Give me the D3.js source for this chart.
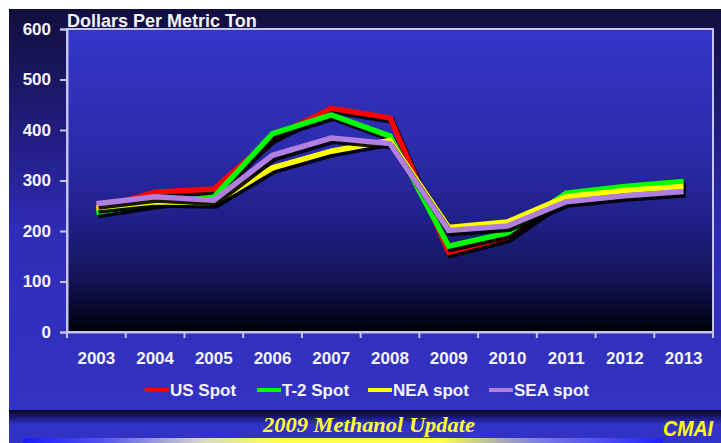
<!DOCTYPE html>
<html>
<head>
<meta charset="utf-8">
<script src="https://cdn.jsdelivr.net/npm/d3@7"></script>
<style>
  body { margin: 0; background: #fff; }
  svg { display: block; font-family: "Liberation Sans", Arial, sans-serif; }
</style>
</head>
<body>
<div id="chart"></div>
<script>
//chart data
var years = ["2003", "2004", "2005", "2006", "2007", "2008", "2009", "2010", "2011", "2012", "2013"];
var usSpot = [244, 277, 283, 385, 443, 424, 158, 188, 268, 281, 292];
var t2Spot = [237, 255, 267, 393, 430, 388, 170, 196, 275, 288, 298];
var neaSpot = [246, 258, 256, 325, 358, 379, 207, 218, 268, 280, 288];
var seaSpot = [254, 268, 261, 350, 384, 373, 201, 210, 258, 270, 278];
var yTicks = [0, 100, 200, 300, 400, 500, 600];

var seriesNames = ["US Spot", "T-2 Spot", "NEA spot", "SEA spot"];
var seriesColors = ["#ff0000", "#00ff00", "#ffff00", "#b07fe0"];
var seriesValues = [usSpot, t2Spot, neaSpot, seaSpot];

//svg dimensions
var svgWidth = 721;
var svgHeight = 443;
var plot = { left: 67, top: 29, right: 713, bottom: 332 };

var svg = d3.select("#chart").append("svg")
    .attr("width", svgWidth)
    .attr("height", svgHeight);

var defs = svg.append("defs");

//outer panel gradient: navy at top, blue lower down
var outerGrad = defs.append("linearGradient").attr("id", "outerGrad")
    .attr("x1", 0).attr("y1", 0).attr("x2", 0).attr("y2", 1);
outerGrad.append("stop").attr("offset", "0%").attr("stop-color", "#110f3c");
outerGrad.append("stop").attr("offset", "35%").attr("stop-color", "#241f88");
outerGrad.append("stop").attr("offset", "55%").attr("stop-color", "#2f2cb6");
outerGrad.append("stop").attr("offset", "100%").attr("stop-color", "#3333c4");

//plot area gradient: blue at top, black at bottom
var plotGrad = defs.append("linearGradient").attr("id", "plotGrad")
    .attr("x1", 0).attr("y1", 0).attr("x2", 0).attr("y2", 1);
plotGrad.append("stop").attr("offset", "0%").attr("stop-color", "#3535ca");
plotGrad.append("stop").attr("offset", "40%").attr("stop-color", "#2b2bab");
plotGrad.append("stop").attr("offset", "62%").attr("stop-color", "#20208a");
plotGrad.append("stop").attr("offset", "82%").attr("stop-color", "#14145a");
plotGrad.append("stop").attr("offset", "93%").attr("stop-color", "#07072a");
plotGrad.append("stop").attr("offset", "100%").attr("stop-color", "#000008");

//dark band under legend
var bandGrad = defs.append("linearGradient").attr("id", "bandGrad")
    .attr("x1", 0).attr("y1", 0).attr("x2", 0).attr("y2", 1);
bandGrad.append("stop").attr("offset", "0%").attr("stop-color", "#060620");
bandGrad.append("stop").attr("offset", "45%").attr("stop-color", "#16166a");
bandGrad.append("stop").attr("offset", "100%").attr("stop-color", "#3232c4");

//bottom strip blue -> white -> yellow -> blue
var stripGrad = defs.append("linearGradient").attr("id", "stripGrad")
    .attr("x1", 0).attr("y1", 0).attr("x2", 1).attr("y2", 0);
stripGrad.append("stop").attr("offset", "0%").attr("stop-color", "#1a1aff");
stripGrad.append("stop").attr("offset", "12%").attr("stop-color", "#5050f0");
stripGrad.append("stop").attr("offset", "28%").attr("stop-color", "#d8d8c8");
stripGrad.append("stop").attr("offset", "40%").attr("stop-color", "#ffff50");
stripGrad.append("stop").attr("offset", "65%").attr("stop-color", "#ffff50");
stripGrad.append("stop").attr("offset", "80%").attr("stop-color", "#8080e0");
stripGrad.append("stop").attr("offset", "100%").attr("stop-color", "#2020ff");

//backgrounds
svg.append("rect").attr("x", 9).attr("y", 9).attr("width", svgWidth - 9).attr("height", 402)
    .attr("fill", "url(#outerGrad)");
svg.append("rect").attr("x", 9).attr("y", 410).attr("width", svgWidth - 9).attr("height", 14)
    .attr("fill", "url(#bandGrad)");
svg.append("rect").attr("x", 9).attr("y", 424).attr("width", svgWidth - 9).attr("height", 19)
    .attr("fill", "#3232c4");
svg.append("rect").attr("x", 23).attr("y", 438).attr("width", 640).attr("height", 5)
    .attr("fill", "url(#stripGrad)");

svg.append("rect")
    .attr("x", plot.left).attr("y", plot.top)
    .attr("width", plot.right - plot.left).attr("height", plot.bottom - plot.top)
    .attr("fill", "url(#plotGrad)")
    .attr("stroke", "#c4c4ee")
    .attr("stroke-width", 2);

//scales
var xScale = d3.scaleBand().domain(years).range([plot.left, plot.right]);
var yScale = d3.scaleLinear().domain([0, 600]).range([plot.bottom, plot.top]);

//y axis
var yAxis = svg.append("g")
    .attr("transform", `translate(${plot.left}, 0)`)
    .call(d3.axisLeft(yScale).tickValues(yTicks).tickSize(7).tickPadding(9));
yAxis.select(".domain").attr("stroke", "#c4c4ee").attr("stroke-width", 2);
yAxis.selectAll(".tick line").attr("stroke", "#c4c4ee").attr("stroke-width", 2);
yAxis.selectAll(".tick text")
    .attr("fill", "#f4f4ff")
    .attr("font-size", "17px")
    .attr("font-weight", "bold")
    .attr("font-family", "Liberation Sans, Arial, sans-serif");

//x axis: labels at band centres, ticks at band edges
var xAxis = svg.append("g")
    .attr("transform", `translate(0, ${plot.bottom})`)
    .call(d3.axisBottom(xScale).tickSize(0).tickPadding(20));
xAxis.select(".domain").attr("stroke", "#c4c4ee").attr("stroke-width", 2);
xAxis.selectAll(".tick text")
    .attr("fill", "#f4f4ff")
    .attr("font-size", "17px")
    .attr("font-weight", "bold")
    .attr("font-family", "Liberation Sans, Arial, sans-serif");

var edges = years.map(d => xScale(d)).concat([xScale.range()[1]]);
xAxis.selectAll(".edge")
    .data(edges)
    .enter()
    .append("line")
    .attr("x1", d => d).attr("x2", d => d)
    .attr("y1", 0).attr("y2", 6)
    .attr("stroke", "#c4c4ee")
    .attr("stroke-width", 2);

//title
svg.append("text")
    .attr("x", plot.left)
    .attr("y", 27)
    .attr("fill", "#f4f4ff")
    .attr("font-size", "18px")
    .attr("font-weight", "bold")
    .text("Dollars Per Metric Ton");

//lines with drop shadows
var line = d3.line()
    .x((d, i) => xScale(years[i]) + xScale.bandwidth() / 2)
    .y(d => yScale(d));

var linesGroup = svg.append("g");
seriesValues.forEach(function(values, i) {
    linesGroup.append("path")
        .datum(values)
        .attr("d", line)
        .attr("transform", "translate(2, 3)")
        .attr("fill", "none")
        .attr("stroke", "#000")
        .attr("stroke-width", 6)
        .attr("stroke-opacity", 0.9)
        .attr("stroke-linejoin", "miter");
    linesGroup.append("path")
        .datum(values)
        .attr("d", line)
        .attr("fill", "none")
        .attr("stroke", seriesColors[i])
        .attr("stroke-width", 5.5)
        .attr("stroke-linejoin", "miter");
});

//legend
var legendX = [145, 257, 368, 489];
var legend = svg.append("g");
seriesNames.forEach(function(name, i) {
    legend.append("line")
        .attr("x1", legendX[i]).attr("x2", legendX[i] + 24)
        .attr("y1", 390).attr("y2", 390)
        .attr("stroke", seriesColors[i])
        .attr("stroke-width", 4);
    legend.append("text")
        .attr("x", legendX[i] + 25)
        .attr("y", 396)
        .attr("fill", "#f4f4ff")
        .attr("font-size", "17px")
        .attr("font-weight", "bold")
        .text(name);
});

//footer
svg.append("text")
    .attr("x", 369)
    .attr("y", 432)
    .attr("text-anchor", "middle")
    .attr("fill", "#ffff33")
    .attr("font-family", "Liberation Serif, Times New Roman, serif")
    .attr("font-style", "italic")
    .attr("font-weight", "bold")
    .attr("font-size", "20px")
    .attr("textLength", 212)
    .attr("lengthAdjust", "spacingAndGlyphs")
    .text("2009 Methanol Update");

//logo, kept inside the window
svg.append("text")
    .attr("x", 663)
    .attr("y", 436)
    .attr("fill", "#ffff00")
    .attr("font-style", "italic")
    .attr("font-weight", "bold")
    .attr("font-size", "22px")
    .attr("textLength", 50)
    .attr("lengthAdjust", "spacingAndGlyphs")
    .text("CMAI");
</script>
</body>
</html>
